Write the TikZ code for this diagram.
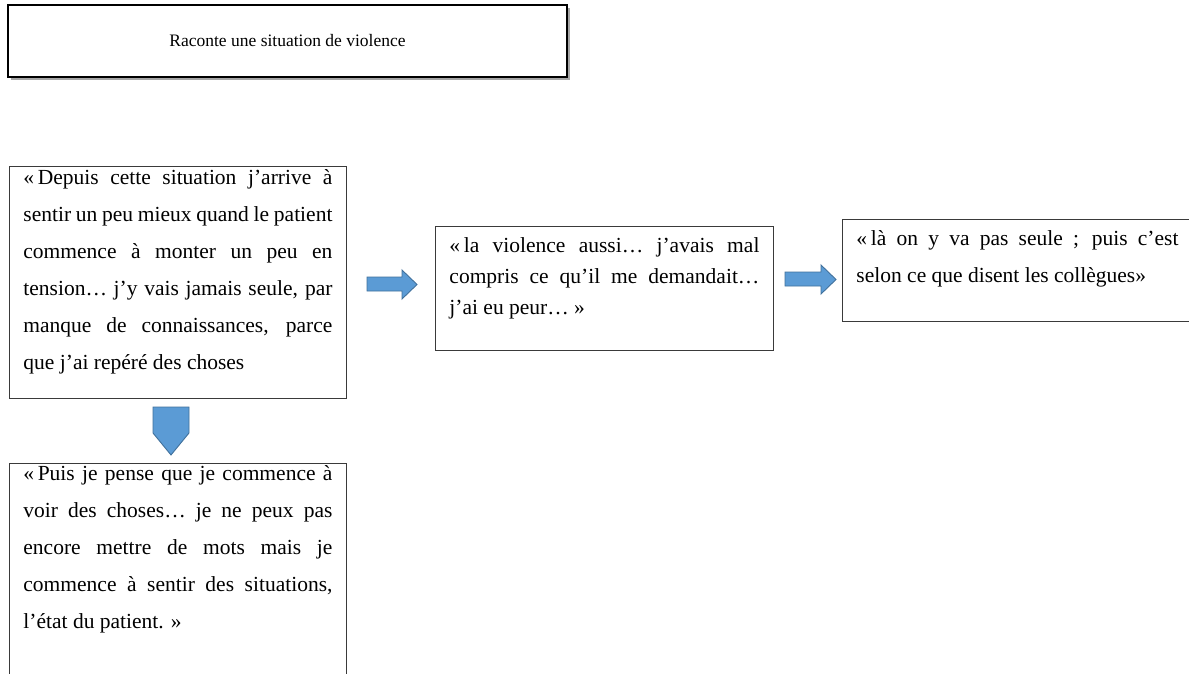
\documentclass[tikz,border=0pt]{standalone}
\usepackage{fontspec}
\setmainfont{Liberation Serif}
\usetikzlibrary{positioning}
\definecolor{quArrowFill}{HTML}{5B9BD5}
\definecolor{quArrowLine}{HTML}{41719C}
\definecolor{quFrame}{HTML}{3A3A3A}
\definecolor{quShadow}{HTML}{A6A6A6}
% text block: width, height, first baseline, line spacing, text
\newcommand{\quotepar}[5]{\parbox[c][#2][t]{#1}{\fontsize{21.5}{#4}\selectfont\hyphenpenalty=10000\exhyphenpenalty=10000\rule{0pt}{#3}#5}}

\begin{document}
\begin{tikzpicture}[x=1pt,y=-1pt,line join=miter]
\useasboundingbox[fill=white] (0,0) rectangle (1189,674);
\tikzset{framebox/.style={draw=black,line width=2pt,fill=white,inner sep=0pt,font=\fontsize{17.5}{21}\selectfont},quotebox/.style={draw=quFrame,line width=0.9pt,fill=white,inner xsep=14pt,inner ysep=0pt,anchor=north west},blockarrow/.style={draw=quArrowLine,line width=0.9pt,fill=quArrowFill}}
% title
\draw[quShadow,line width=1.2pt] (11,79) -- (569,79) -- (569,8);
\node[framebox,minimum width=559pt,minimum height=72pt] (titre) at (287.5,41) {Raconte une situation de violence};
% quotes
\node[quotebox] (depuis) at (9,166) {\quotepar{309pt}{232pt}{18pt}{37pt}{«\,Depuis cette situation j’arrive à\linebreak sentir un peu mieux quand le patient\linebreak commence à monter un peu en\linebreak tension… j’y vais jamais seule, par\linebreak manque de connaissances, parce\linebreak que j’ai repéré des choses}};
\node[quotebox] (violence) at (435,226) {\quotepar{310pt}{124pt}{26pt}{31pt}{«\,la violence aussi… j’avais mal\linebreak compris ce qu’il me demandait…\linebreak j’ai eu peur… »}};
\node[quotebox] (seule) at (842,219) {\quotepar{322pt}{102pt}{26pt}{37pt}{«\,là on y va pas seule ; puis c’est\linebreak selon ce que disent les collègues»}};
\node[quotebox] (puis) at (9,463) {\quotepar{309pt}{240pt}{17pt}{37pt}{«\,Puis je pense que je commence à\linebreak voir des choses… je ne peux pas\linebreak encore mettre de mots mais je\linebreak commence à sentir des situations,\linebreak l’état du patient. »}};
% block arrows
\path[blockarrow] (367,277) -- (402,277) -- (402,270) -- (417,284.5) -- (402,299) -- (402,291) -- (367,291) -- cycle;
\path[blockarrow] (785,272) -- (821,272) -- (821,265) -- (836,279.5) -- (821,294) -- (821,286) -- (785,286) -- cycle;
\path[blockarrow] (153,407) -- (189,407) -- (189,433) -- (171,455) -- (153,433) -- cycle;
\end{tikzpicture}
\end{document}
